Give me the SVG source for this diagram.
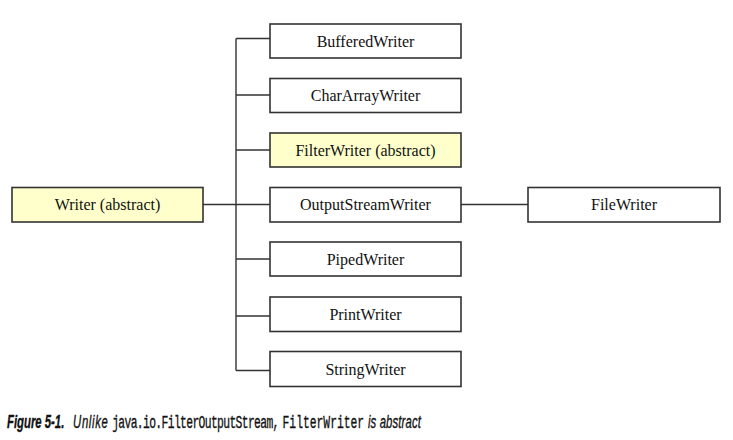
<svg xmlns="http://www.w3.org/2000/svg" width="733" height="440" viewBox="0 0 733 440">
<style>
.box{fill:#ffffff;stroke:#333333;stroke-width:1.6}
.hl{fill:#ffffcc}
.lbl{font-family:"Liberation Serif","Times New Roman",serif;font-size:16px;fill:#111111;text-anchor:middle}
.conn{stroke:#333333;stroke-width:1.4;fill:none}
.cap{font-family:"Liberation Sans",Arial,sans-serif;font-size:18px;fill:#111111;font-style:italic;stroke:#111111;stroke-width:0.35}
.mono{font-family:"Liberation Mono","Courier New",monospace;font-style:normal}
</style>
<rect width="733" height="440" fill="#ffffff"/>
<g id="connectors">
<line class="conn" x1="203" y1="204.5" x2="270" y2="204.5"/>
<line class="conn" x1="236" y1="38.5" x2="236" y2="370.5"/>
<line class="conn" x1="236" y1="38.5" x2="270" y2="38.5"/>
<line class="conn" x1="236" y1="95" x2="270" y2="95"/>
<line class="conn" x1="236" y1="150" x2="270" y2="150"/>
<line class="conn" x1="236" y1="259" x2="270" y2="259"/>
<line class="conn" x1="236" y1="316" x2="270" y2="316"/>
<line class="conn" x1="236" y1="370.5" x2="270" y2="370.5"/>
<line class="conn" x1="461" y1="204.5" x2="528" y2="204.5"/>
</g>
<g id="writer"><rect class="box hl" x="12" y="187.5" width="191" height="34.5"/><text class="lbl" x="107.5" y="210">Writer (abstract)</text></g>
<g id="bufferedwriter"><rect class="box" x="270" y="24" width="191" height="34"/><text class="lbl" x="365.5" y="46.5">BufferedWriter</text></g>
<g id="chararraywriter"><rect class="box" x="270" y="78.5" width="191" height="34"/><text class="lbl" x="365.5" y="101">CharArrayWriter</text></g>
<g id="filterwriter"><rect class="box hl" x="270" y="133" width="191" height="34"/><text class="lbl" x="365.5" y="155.5">FilterWriter (abstract)</text></g>
<g id="outputstreamwriter"><rect class="box" x="270" y="187.5" width="191" height="34.5"/><text class="lbl" x="365.5" y="210">OutputStreamWriter</text></g>
<g id="pipedwriter"><rect class="box" x="270" y="242" width="191" height="34"/><text class="lbl" x="365.5" y="264.5">PipedWriter</text></g>
<g id="printwriter"><rect class="box" x="270" y="297" width="191" height="34.5"/><text class="lbl" x="365.5" y="319.5">PrintWriter</text></g>
<g id="stringwriter"><rect class="box" x="270" y="351.5" width="191" height="35"/><text class="lbl" x="365.5" y="374.5">StringWriter</text></g>
<g id="filewriter"><rect class="box" x="528" y="187.5" width="192" height="34.5"/><text class="lbl" x="624" y="210">FileWriter</text></g>
<g id="caption">
<text class="cap" transform="translate(7,427.5) scale(0.63,1)" x="0" y="0"><tspan font-weight="bold">Figure 5-1.</tspan> <tspan dx="9" letter-spacing="1.0">Unlike</tspan> <tspan class="mono" dx="1" letter-spacing="-1.0">java.io.FilterOutputStream,</tspan> <tspan class="mono" dx="1" letter-spacing="0">FilterWriter</tspan> <tspan dx="1" letter-spacing="0.2">is abstract</tspan></text>
</g>
</svg>
